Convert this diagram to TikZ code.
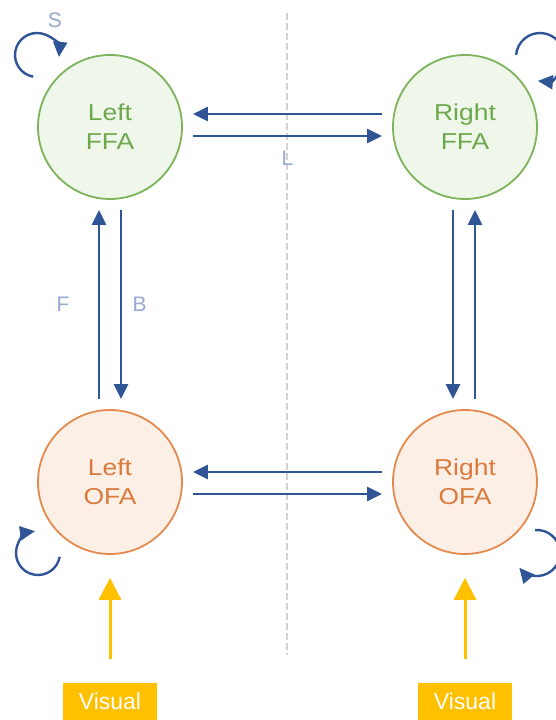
\documentclass[tikz,border=0pt]{standalone}
\usepackage{fontspec}
\setmainfont{Liberation Sans}
\newfontfamily\areafont[FakeStretch=1.15]{Liberation Sans}
\usepackage{tikz}
\usetikzlibrary{
	arrows.meta,
	positioning,
	calc,
}

\definecolor{ffaline}{HTML}{7DB35A}
\definecolor{ffafill}{HTML}{EFF6EA}
\definecolor{ffatext}{HTML}{6EA84C}
\definecolor{ofaline}{HTML}{E58A4E}
\definecolor{ofafill}{HTML}{FCEFE6}
\definecolor{ofatext}{HTML}{DA7A3C}
\definecolor{conn}{HTML}{2F5597}
\definecolor{lbl}{HTML}{98A8D0}
\definecolor{visual}{HTML}{FFC000}

\begin{document}
\begin{tikzpicture}[
	x=1pt,y=1pt,
	>={Triangle[length=15pt,width=14pt]},
	draw=conn, line width=2.4pt,
	node distance=355pt,
	area/.style={circle,minimum size=144pt,inner sep=0pt,line width=1.8pt,
		align=center,font=\areafont\fontsize{23}{29}\selectfont},
	ffa/.style={area,draw=ffaline,fill=ffafill,text=ffatext},
	ofa/.style={area,draw=ofaline,fill=ofafill,text=ofatext},
	lab/.style={text=lbl,font=\fontsize{21}{25}\selectfont},
	input/.style={fill=visual,text=white,minimum width=94pt,minimum height=37pt,
		inner sep=0pt,font=\fontsize{23}{27}\selectfont},
	feed/.style={draw=visual,line width=3pt,-{Triangle[length=22pt,width=22pt]},
		shorten >=23pt,shorten <=23pt},
	link/.style={->,shorten >=10pt,shorten <=10pt},
	]
	\useasboundingbox (0,0) rectangle (556,720);
	
	%% midline
	\coordinate (midtop) at (287,707);
	\coordinate (midbot) at (287,65);
	\draw[gray!35,line width=1.2pt,dash pattern=on 7pt off 3pt] (midtop) -- (midbot);
	
	%% line 1
	\node[ffa] (LF) at (110,593) {Left\\FFA};
	\node[ffa] (RF) [right of=LF] {Right\\FFA};
	
	%% line 2
	\node[ofa] (LO) [below of=LF] {Left\\OFA};
	\node[ofa] (RO) [right of=LO] {Right\\OFA};
	
	%% line 3
	\node[input] (VL) [node distance=219.5pt,below of=LO] {Visual};
	\node[input] (VR) [node distance=219.5pt,below of=RO] {Visual};
	
	%% lateral
	\draw[link] ([yshift=13pt]RF.west) to ([yshift=13pt]LF.east);
	\draw[link] ([yshift=-9pt]LF.east) to node[lab,below=11pt] (L) {L} ([yshift=-9pt]RF.west);
	\draw[link] ([yshift=10pt]RO.west) to ([yshift=10pt]LO.east);
	\draw[link] ([yshift=-12pt]LO.east) to ([yshift=-12pt]RO.west);
	
	%% forward / backward
	\draw[link] ([xshift=-11pt]LO.north) to node[lab,left=25pt] (F) {F} ([xshift=-11pt]LF.south);
	\draw[link] ([xshift=11pt]LF.south) to node[lab,right=7pt] (B) {B} ([xshift=11pt]LO.north);
	\draw[link] ([xshift=-12pt]RF.south) to ([xshift=-12pt]RO.north);
	\draw[link] ([xshift=10pt]RO.north) to ([xshift=10pt]RF.south);
	
	%% self
	\draw[->] ($(LF)+(-73,72)+(260:22)$) arc[start angle=260,end angle=-5,radius=22];
	\node[lab] (S) at ([shift={(-55,107)}]LF) {S};
	\draw[->] ($(RF)+(75,70)+(175:24)$) arc[start angle=175,end angle=-95,radius=24];
	\draw[->] ($(LO)+(-72,-71)+(-10:22)$) arc[start angle=-10,end angle=-262,radius=22];
	\draw[->] ($(RO)+(72,-71)+(95:23)$) arc[start angle=95,end angle=-140,radius=23];
	
	%% input
	\draw[feed] (VL) to (LO);
	\draw[feed] (VR) to (RO);
	
\end{tikzpicture}
\end{document}
